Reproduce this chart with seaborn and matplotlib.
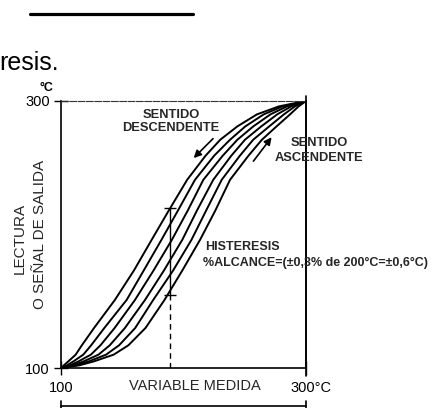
import numpy as np
import pandas as pd
import matplotlib
matplotlib.use('Agg')
import matplotlib.pyplot as plt
import matplotlib.transforms as mtrans
import seaborn as sns
from matplotlib.lines import Line2D

sns.set_theme(style='white')
plt.rcParams['font.family'] = ['Liberation Sans', 'DejaVu Sans']

# Lectura (eje Y, °C) en la que se leyeron las curvas
niveles = [100, 102, 105, 110, 117, 130, 151, 173, 196, 218, 241, 259, 271, 281, 290, 296, 300]
# Variable medida (eje X, °C) de cada curva en esos niveles (de izquierda a derecha)
curva1 = [100, 102.3, 106.0, 112.0, 117.0, 127.0, 144.0, 159.5, 174.0, 188.0, 203.0, 218.0, 230.0, 244.0, 260.0, 278.0, 300]
curva2 = [100, 104.8, 110.2, 118.2, 124.6, 135.4, 153.6, 167.5, 182.0, 195.5, 209.4, 225.0, 238.0, 250.5, 265.5, 281.0, 300]
curva3 = [100, 107.4, 114.4, 124.4, 132.2, 143.8, 160.4, 175.5, 190.5, 203.5, 216.2, 232.0, 244.0, 257.0, 271.0, 284.5, 300]
curva4 = [100, 109.9, 118.6, 130.6, 139.8, 152.2, 168.6, 184.0, 199.0, 211.0, 224.3, 239.0, 250.2, 263.5, 276.5, 288.0, 300]
curva5 = [100, 112.5, 122.8, 136.8, 147.4, 160.6, 175.3, 191.5, 206.5, 218.5, 231.2, 246.0, 256.9, 270.0, 282.0, 291.0, 300]
curva6 = [100, 115.0, 127.0, 143.0, 155.0, 169.0, 184.5, 199.0, 213.5, 226.0, 238.0, 253.0, 264.0, 276.0, 287.0, 294.0, 300]

x_hist = 189
y_hist_sup = 220
y_hist_inf = 155

rows = []
for i, c in enumerate([curva1, curva2, curva3, curva4, curva5, curva6]):
    for xv, yv in zip(c, niveles):
        rows.append({'curva': i, 'x': xv, 'y': yv})
df = pd.DataFrame(rows)

W, H = 436, 408
fig = plt.figure(figsize=(W / 100, H / 100), dpi=100)
fig.patch.set_facecolor('white')

def fp(x, y):
    return (x / W, 1 - y / H)

ax = fig.add_axes([61 / W, 40 / H, 245 / W, 267 / H])
ax.set_facecolor('white')
sns.lineplot(data=df, x='x', y='y', units='curva', estimator=None, sort=False,
             color='black', lw=1.4, ax=ax, legend=False)
ax.set_xlim(100, 300)
ax.set_ylim(100, 300)
ax.set_xlabel('')
ax.set_ylabel('')

for s in ['left', 'bottom', 'right']:
    ax.spines[s].set_color('black')
    ax.spines[s].set_linewidth(1.2)
ax.spines['top'].set_color('#333333')
ax.spines['top'].set_linewidth(0.8)
ax.spines['top'].set_linestyle((0, (6, 1.5)))

ax.set_xticks([100, 300])
ax.set_xticklabels(['100', '300°C'])
ax.set_yticks([100, 300])
ax.set_yticklabels(['100', '300'])
ax.tick_params(axis='both', direction='inout', length=10, width=1, colors='black',
               labelsize=10.5, pad=3, bottom=True, left=True)
ax.tick_params(axis='x', pad=4)
lbl = ax.get_xticklabels()
lbl[1].set_horizontalalignment('left')
off = mtrans.ScaledTranslation(-16 / 100, 0, fig.dpi_scale_trans)
lbl[1].set_transform(lbl[1].get_transform() + off)

# Histeresis
ax.plot([x_hist, x_hist], [100, y_hist_inf], color='black', lw=1, ls=(0, (4, 3)))
ax.plot([x_hist, x_hist], [y_hist_inf, y_hist_sup], color='black', lw=1)
ax.plot([x_hist, x_hist], [y_hist_inf, y_hist_sup], ls='none', marker='_',
        ms=8, mew=1, color='black')

# Flechas
ax.annotate('', xy=(206.7, 255.8), xytext=(225.7, 273.3),
            arrowprops=dict(arrowstyle='-|>', color='black', lw=1.2, mutation_scale=11))
ax.annotate('', xy=(273.3, 274.5), xytext=(255.7, 253.3),
            arrowprops=dict(arrowstyle='-|>', color='black', lw=1.2, mutation_scale=11))

# Lineas de la figura
fig.add_artist(Line2D([30 / W, 193 / W], [1 - 14 / H] * 2, color='black', lw=2.3))
fig.add_artist(Line2D([306 / W] * 2, [1 - 96 / H, 1 - 376 / H], color='black', lw=1.2))
fig.add_artist(Line2D([61 / W, 306 / W], [1 - 406 / H] * 2, color='black', lw=1.2))
for xx in (61, 306):
    fig.add_artist(Line2D([xx / W] * 2, [1 - 401 / H, 1 - 408 / H], color='black', lw=1.2))

# Textos
fig.text(*fp(-1, 63), 'resis.', fontsize=18, ha='left', va='center', color='black')
fig.text(*fp(46, 88), '°C', fontsize=9, ha='center', va='center', color='black', weight='bold')
fig.text(*fp(20, 238), 'LECTURA', fontsize=11, rotation=90, ha='center', va='center')
fig.text(*fp(40, 234), 'O SEÑAL DE SALIDA', fontsize=11, rotation=90, ha='center', va='center')
fig.text(*fp(195, 386), 'VARIABLE MEDIDA', fontsize=10.5, ha='center', va='center')
fig.text(*fp(171, 115), 'SENTIDO', fontsize=9.3, weight='bold', ha='center', va='center')
fig.text(*fp(171, 128), 'DESCENDENTE', fontsize=9.3, weight='bold', ha='center', va='center')
fig.text(*fp(319, 143), 'SENTIDO', fontsize=9.3, weight='bold', ha='center', va='center')
fig.text(*fp(319, 158), 'ASCENDENTE', fontsize=9.3, weight='bold', ha='center', va='center')
fig.text(*fp(205, 247), 'HISTERESIS', fontsize=9, weight='bold', ha='left', va='center')
fig.text(*fp(203, 263), '%ALCANCE=(±0,3% de 200°C=±0,6°C)', fontsize=9, weight='bold',
         ha='left', va='center')

fig.savefig('out.png', dpi=100, facecolor='white')
